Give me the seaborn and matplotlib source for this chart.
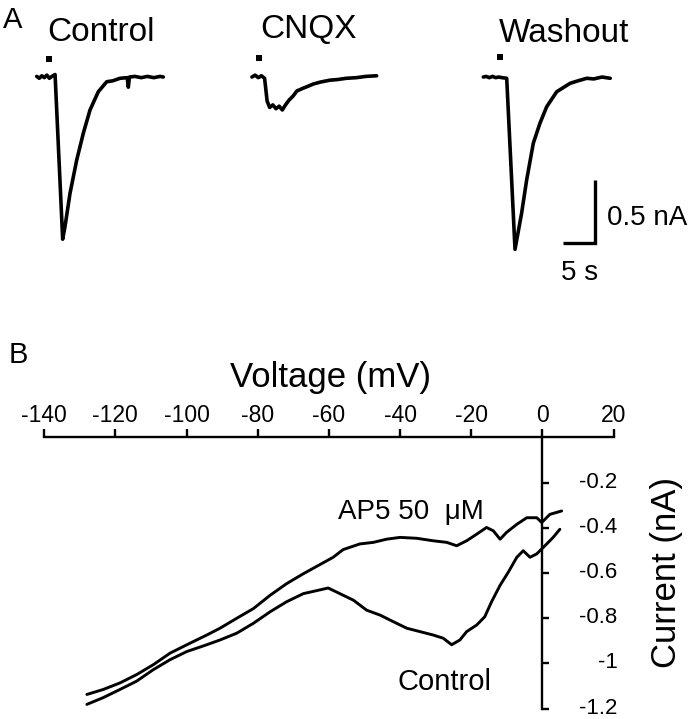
import numpy as np
import pandas as pd
import matplotlib
matplotlib.use("Agg")
import matplotlib.pyplot as plt
import matplotlib.transforms as mtransforms
import seaborn as sns

### Panel A: evoked currents (time in s, current in nA)
ctrl_t = [0, 0.4, 0.8, 1.2, 1.6, 2.0, 2.4, 2.9, 4.1, 4.47, 5.26, 6.32, 7.36, 8.42, 9.73,
          11.06, 12.0, 13.16, 14.3, 14.47, 14.65, 15.5, 16.5, 17.5, 18.5, 19.5, 20.0]
ctrl_i = [0.005, -0.01, 0.01, -0.005, 0.015, -0.01, 0.005, 0.02, -1.28, -1.18, -0.918,
          -0.655, -0.444, -0.26, -0.116, -0.037, -0.03, -0.01, -0.005, -0.08, 0.0, 0.005,
          -0.005, 0.005, -0.005, 0.005, 0.0]

cnqx_t = [34.0, 34.5, 35.0, 35.5, 36.0, 36.4, 36.8, 37.3, 37.8, 38.3, 38.8, 39.3, 39.9,
          40.5, 41.1, 42.0, 43.0, 43.7, 44.8, 46.3, 47.5, 48.9, 50.5, 52.0, 53.7]
cnqx_i = [0.0, 0.015, -0.005, 0.01, -0.01, -0.19, -0.24, -0.22, -0.25, -0.23, -0.26, -0.22,
          -0.18, -0.15, -0.11, -0.09, -0.07, -0.055, -0.04, -0.025, -0.02, -0.01, -0.005,
          0.005, 0.01]

wash_t = [70.55, 71.0, 71.5, 72.0, 72.5, 73.0, 73.5, 74.25, 75.56, 76.6, 77.4, 78.45,
          79.5, 80.57, 82.15, 84.25, 85.5, 86.9, 88.0, 89.3, 90.6]
wash_i = [0.0, 0.005, -0.005, 0.005, -0.005, 0.0, -0.005, -0.01, -1.36, -1.076, -0.813,
          -0.523, -0.365, -0.234, -0.116, -0.05, -0.03, -0.01, -0.015, 0.0, -0.01]

# agonist application markers
mark_t = [1.94, 35.17, 73.2]
mark_i = [0.142, 0.152, 0.158]

titles = ['Control', 'CNQX', 'Washout']

# scale bar sizes
bar_t = 5
bar_i = 0.5

### Panel B: I-V relation (mV, nA)
ap5_v = [-128.0, -123.4, -118.7, -114.0, -109.3, -104.6, -99.9, -94.3, -90.6, -85.9,
         -81.2, -76.5, -71.9, -67.2, -63.4, -58.8, -56.0, -51.3, -47.5, -43.8, -40.0,
         -35.3, -30.7, -26.9, -24.1, -21.3, -18.5, -15.7, -13.8, -11.9, -10.1, -7.2,
         -4.4, -1.6, -0.2, 2.1, 5.4]
ap5_i = [-1.137, -1.115, -1.086, -1.049, -1.005, -0.954, -0.917, -0.874, -0.844, -0.800,
         -0.757, -0.698, -0.647, -0.603, -0.570, -0.530, -0.496, -0.471, -0.464, -0.450,
         -0.442, -0.446, -0.457, -0.464, -0.479, -0.457, -0.428, -0.398, -0.413, -0.450,
         -0.420, -0.384, -0.355, -0.355, -0.376, -0.340, -0.325]

ctl_v = [-128.0, -123.4, -118.7, -114.0, -109.3, -104.6, -99.9, -94.3, -90.6, -85.9,
         -81.2, -76.5, -71.9, -67.2, -64.4, -60.2, -56.9, -53.1, -49.4, -45.6, -41.9,
         -38.1, -34.4, -30.7, -27.9, -25.5, -23.2, -21.3, -18.5, -16.2, -14.3, -11.9,
         -9.6, -7.2, -5.4, -3.5, -1.6, 0.7, 3.0, 4.9]
ctl_i = [-1.181, -1.151, -1.115, -1.078, -1.027, -0.983, -0.947, -0.917, -0.896, -0.866,
         -0.822, -0.771, -0.727, -0.691, -0.681, -0.666, -0.691, -0.720, -0.764, -0.786,
         -0.815, -0.844, -0.859, -0.874, -0.888, -0.917, -0.896, -0.859, -0.830, -0.793,
         -0.727, -0.654, -0.596, -0.530, -0.501, -0.530, -0.515, -0.479, -0.442, -0.406]

volt_ticks = [-140, -120, -100, -80, -60, -40, -20, 0, 20]
cur_ticks = [-0.2, -0.4, -0.6, -0.8, -1.0, -1.2]
cur_tick_labels = ['-0.2', '-0.4', '-0.6', '-0.8', '-1', '-1.2']


sns.set_style("white")
plt.rcParams['font.family'] = ['Liberation Sans', 'DejaVu Sans']
plt.rcParams['axes.unicode_minus'] = False
for k in ['text.color', 'axes.labelcolor', 'xtick.color', 'ytick.color', 'axes.edgecolor']:
    plt.rcParams[k] = 'black'

fig = plt.figure(figsize=(6.98, 7.19), dpi=100)

###Panel A
axA = fig.add_axes([0, 429 / 719, 1, 290 / 719])
for t, i in [(ctrl_t, ctrl_i), (cnqx_t, cnqx_i), (wash_t, wash_i)]:
    sns.lineplot(x=t, y=i, ax=axA, color='black', lw=2.6, sort=False, estimator=None)
sns.scatterplot(x=mark_t, y=mark_i, ax=axA, color='black', marker='s', s=16, linewidth=0)

for name, tx, ty in zip(titles, [10.16, 43.0, 83.3], [0.2865, 0.305, 0.279]):
    axA.text(tx, ty, name, fontsize=24, ha='center', va='baseline')

# scale bar
sx, sy = 83.2, -1.313
axA.plot([sx, sx + bar_t, sx + bar_t], [sy, sy, sy + bar_i], color='black', lw=2.4,
         solid_joinstyle='miter', solid_capstyle='butt')
axA.text(sx + bar_t + 1.85, sy + 0.2, '%.1f nA' % bar_i, fontsize=20, ha='left', va='center')
axA.text(sx + bar_t / 2 + 0.1, sy - 0.235, '%d s' % bar_t, fontsize=20, ha='center', va='center')

axA.set_xlim(-5.80, 104.47)
axA.set_ylim(-1.681, 0.608)
axA.axis('off')

###Panel B
axB = fig.add_axes([0, 0, 1, 419 / 719])
sns.lineplot(x=ap5_v, y=ap5_i, ax=axB, color='black', lw=2.1, sort=False, estimator=None)
sns.lineplot(x=ctl_v, y=ctl_i, ax=axB, color='black', lw=2.1, sort=False, estimator=None)

axB.set_xlim(-152.4, 43.7)
axB.set_ylim(-1.2456, 0.6084)

for s in ['left', 'bottom']:
    axB.spines[s].set_visible(False)
axB.spines['top'].set_position(('data', 0))
axB.spines['top'].set_bounds(-140, 20)
axB.spines['right'].set_position(('data', 0))
axB.spines['right'].set_bounds(-1.2, 0)
for s in ['top', 'right']:
    axB.spines[s].set_linewidth(1.7)
    axB.spines[s].set_color('black')

axB.xaxis.tick_top()
axB.yaxis.tick_right()
axB.set_xticks(volt_ticks)
axB.set_xticklabels([str(v) for v in volt_ticks])
axB.set_yticks(cur_ticks)
axB.set_yticklabels(cur_tick_labels)
axB.tick_params(axis='x', top=True, bottom=False, labeltop=True, labelbottom=False,
                direction='out', length=5.8, width=1.7, pad=2, labelsize=16.5)
axB.tick_params(axis='y', right=True, left=False, labelright=True, labelleft=False,
                direction='out', length=5, width=1.7, pad=49, labelsize=16)
# labels sit slightly above their ticks, right aligned
lift = mtransforms.ScaledTranslation(0, 3 / 100, fig.dpi_scale_trans)
for lab in axB.get_yticklabels():
    lab.set_horizontalalignment('right')
    lab.set_transform(lab.get_transform() + lift)

axB.xaxis.set_label_position('top')
axB.set_xlabel('Voltage (mV)', fontsize=25)
axB.xaxis.set_label_coords(330 / 698, (719 - 378) / 419)
axB.xaxis.label.set_va('center')

axB.yaxis.set_label_position('right')
axB.set_ylabel('Current (nA)', fontsize=25, rotation=90)
axB.yaxis.set_label_coords(666.5 / 698, (719 - 573) / 419)
axB.yaxis.label.set_va('center')
axB.yaxis.label.set_ha('center')

axB.text(-36.9, -0.331, 'AP5 50  \u03bcM', fontsize=20, ha='center', va='center')
axB.text(-27.4, -1.081, 'Control', fontsize=21, ha='center', va='center')

# panel letters
fig.text(3 / 698, 1 - 6 / 719, 'A', fontsize=21, ha='left', va='top')
fig.text(9 / 698, 1 - 341 / 719, 'B', fontsize=21, ha='left', va='top')

###Save the plot
plt.savefig("out.png", dpi=100)
